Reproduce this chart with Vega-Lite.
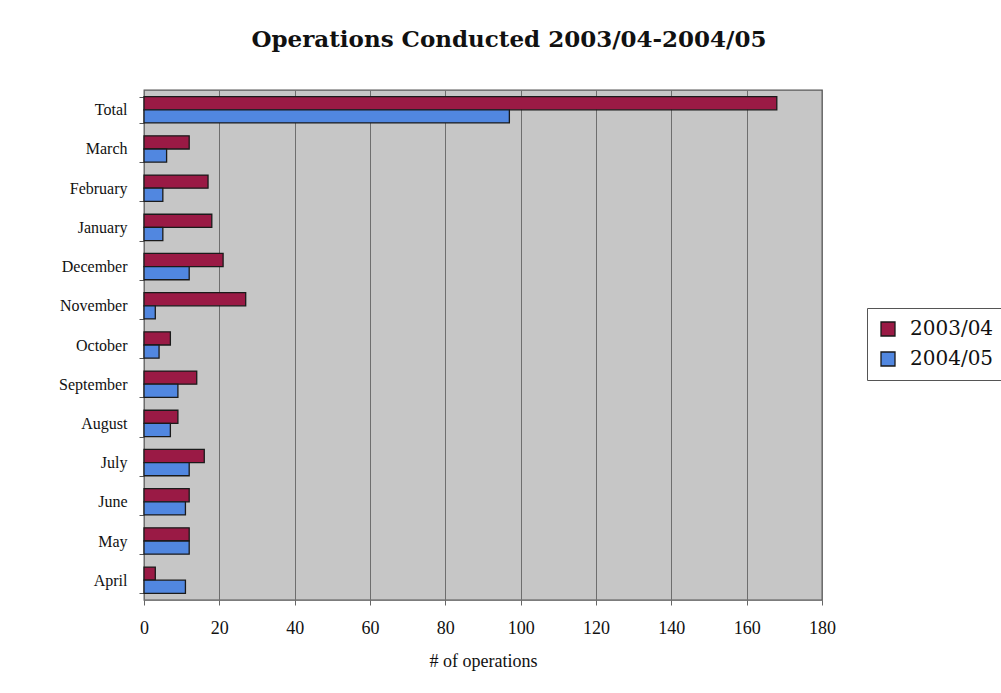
{
  "$schema": "https://vega.github.io/schema/vega-lite/v6.json",
  "autosize": {"type": "none"},
  "width": 678,
  "height": 510,
  "padding": {"left": 144, "top": 90, "right": 179, "bottom": 93},
  "background": "white",
  "title": {
    "text": "Operations Conducted 2003/04-2004/05",
    "font": "DejaVu Serif",
    "fontSize": 23,
    "fontWeight": "bold",
    "color": "#111111",
    "anchor": "middle",
    "frame": "group",
    "dx": 26,
    "offset": 30
  },
  "data": {
    "values": [
      {"month": "Total", "period": "2003/04", "count": 168},
      {"month": "Total", "period": "2004/05", "count": 97},
      {"month": "March", "period": "2003/04", "count": 12},
      {"month": "March", "period": "2004/05", "count": 6},
      {"month": "February", "period": "2003/04", "count": 17},
      {"month": "February", "period": "2004/05", "count": 5},
      {"month": "January", "period": "2003/04", "count": 18},
      {"month": "January", "period": "2004/05", "count": 5},
      {"month": "December", "period": "2003/04", "count": 21},
      {"month": "December", "period": "2004/05", "count": 12},
      {"month": "November", "period": "2003/04", "count": 27},
      {"month": "November", "period": "2004/05", "count": 3},
      {"month": "October", "period": "2003/04", "count": 7},
      {"month": "October", "period": "2004/05", "count": 4},
      {"month": "September", "period": "2003/04", "count": 14},
      {"month": "September", "period": "2004/05", "count": 9},
      {"month": "August", "period": "2003/04", "count": 9},
      {"month": "August", "period": "2004/05", "count": 7},
      {"month": "July", "period": "2003/04", "count": 16},
      {"month": "July", "period": "2004/05", "count": 12},
      {"month": "June", "period": "2003/04", "count": 12},
      {"month": "June", "period": "2004/05", "count": 11},
      {"month": "May", "period": "2003/04", "count": 12},
      {"month": "May", "period": "2004/05", "count": 12},
      {"month": "April", "period": "2003/04", "count": 3},
      {"month": "April", "period": "2004/05", "count": 11}
    ]
  },
  "mark": {"type": "bar", "stroke": "#1a1a1a", "strokeWidth": 1.3, "cornerRadius": 0},
  "encoding": {
    "y": {
      "field": "month",
      "type": "nominal",
      "sort": ["Total", "March", "February", "January", "December", "November", "October", "September", "August", "July", "June", "May", "April"],
      "scale": {"paddingInner": 0.33, "paddingOuter": 0.17},
      "axis": {
        "title": null,
        "labelFont": "Liberation Serif",
        "labelFontSize": 16,
        "labelColor": "#111111",
        "labelPadding": 12,
        "tickBand": "extent",
        "tickSize": 5,
        "tickColor": "#555555",
        "domain": false,
        "grid": false
      }
    },
    "yOffset": {
      "field": "period",
      "type": "nominal",
      "sort": ["2003/04", "2004/05"],
      "scale": {"paddingInner": 0, "paddingOuter": 0}
    },
    "x": {
      "field": "count",
      "type": "quantitative",
      "scale": {"domain": [0, 180], "nice": false},
      "axis": {
        "title": "# of operations",
        "values": [0, 20, 40, 60, 80, 100, 120, 140, 160, 180],
        "labelFont": "Liberation Serif",
        "labelFontSize": 18,
        "labelColor": "#111111",
        "labelPadding": 14,
        "labelFlush": false,
        "titleFont": "Liberation Serif",
        "titleFontSize": 18,
        "titleFontWeight": "normal",
        "titleColor": "#111111",
        "titlePadding": 15,
        "tickSize": 5,
        "tickColor": "#666666",
        "domain": false,
        "grid": true,
        "gridColor": "#6e6e6e",
        "gridWidth": 1
      }
    },
    "color": {
      "field": "period",
      "type": "nominal",
      "sort": ["2003/04", "2004/05"],
      "scale": {"domain": ["2003/04", "2004/05"], "range": ["#9a1a45", "#5187e0"]},
      "legend": {
        "title": null,
        "orient": "none",
        "legendX": 723,
        "legendY": 218,
        "symbolType": "square",
        "symbolSize": 196,
        "symbolStrokeColor": "#1a1a1a",
        "symbolStrokeWidth": 1.3,
        "labelFont": "DejaVu Serif",
        "labelFontSize": 20,
        "labelColor": "#111111",
        "labelOffset": 12,
        "rowPadding": 10,
        "padding": 11,
        "strokeColor": "#555555",
        "fillColor": "white"
      }
    }
  },
  "config": {
    "view": {"fill": "#c6c6c6", "stroke": "#555555", "strokeWidth": 1.3}
  }
}
